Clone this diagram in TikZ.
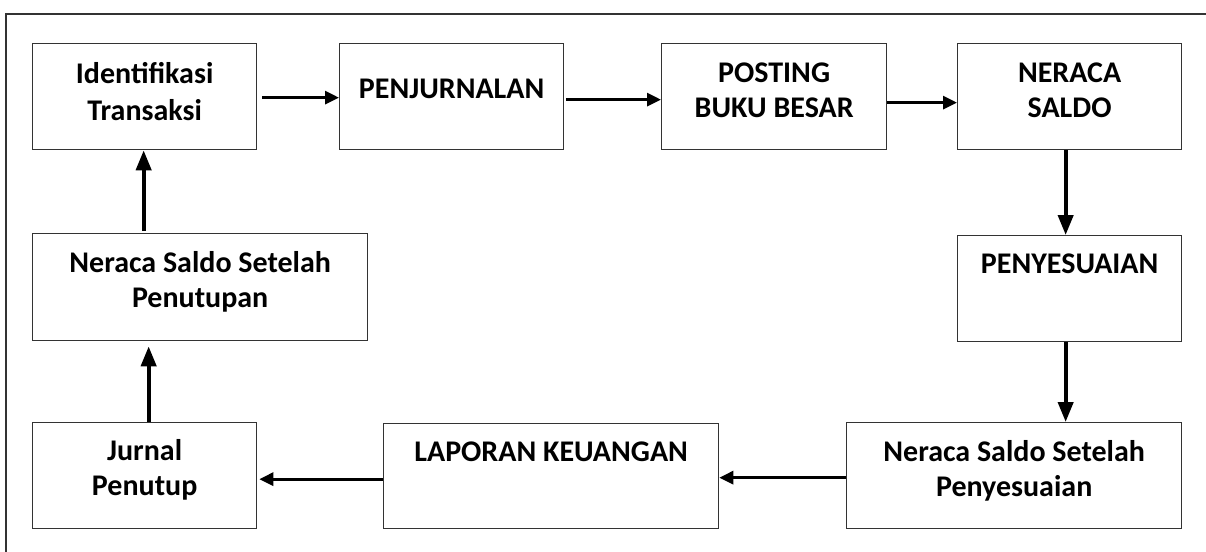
\documentclass[tikz,border=0pt]{standalone}
\usepackage{fontspec}
\setmainfont{Carlito}
\usetikzlibrary{arrows.meta,calc}
\begin{document}
\begin{tikzpicture}[x=1pt,y=-1pt,
  box/.style={draw=black!80,line width=1.3pt,rectangle,anchor=north west,inner sep=0pt},
  lbl/.style={font=\fontsize{30}{35}\selectfont\bfseries,align=center,anchor=base,inner sep=0pt},
  harr/.style={line width=3pt,-{Triangle[length=14pt,width=13pt]}},
  varr/.style={line width=4pt,-{Triangle[length=20pt,width=15pt]}}]
\useasboundingbox (0,0) rectangle (1206,551);
\draw[line width=2pt,black!80] (1210,14) -- (6,14) -- (6,560);
% boxes
\node[box,minimum width=224pt,minimum height=106pt] (it) at (32,43) {};
\node[box,minimum width=224pt,minimum height=106pt] (pj) at (339,43) {};
\node[box,minimum width=225pt,minimum height=106pt] (pb) at (661,43) {};
\node[box,minimum width=224pt,minimum height=106pt] (ns) at (957,43) {};
\node[box,minimum width=224pt,minimum height=106pt] (py) at (957,235) {};
\node[box,minimum width=335pt,minimum height=106pt] (nsp) at (846,422) {};
\node[box,minimum width=335pt,minimum height=105pt] (lk) at (383,423) {};
\node[box,minimum width=224pt,minimum height=106pt] (jp) at (32,422) {};
\node[box,minimum width=335pt,minimum height=107pt] (nst) at (32,233) {};
% labels (base = last line)
\node[lbl,font=\fontsize{30}{37}\selectfont\bfseries] (t-it) at ($(it.north)+(0,77)$) {Identifikasi\\Transaksi};
\node[lbl] (t-pj) at ($(pj.north)+(0,55)$) {PENJURNALAN};
\node[lbl] (t-pb) at ($(pb.north)+(0,74)$) {POSTING\\BUKU BESAR};
\node[lbl] (t-ns) at ($(ns.north)+(0,74)$) {NERACA\\SALDO};
\node[lbl] (t-py) at ($(py.north)+(0,38)$) {PENYESUAIAN};
\node[lbl] (t-nsp) at ($(nsp.north)+(0,74)$) {Neraca Saldo Setelah\\Penyesuaian};
\node[lbl] (t-lk) at ($(lk.north)+(0,38)$) {LAPORAN KEUANGAN};
\node[lbl] (t-jp) at ($(jp.north)+(0,73)$) {Jurnal\\Penutup};
\node[lbl] (t-nst) at ($(nst.north)+(0,74)$) {Neraca Saldo Setelah\\Penutupan};
% connectors
\draw[harr] ([xshift=5pt,yshift=-1pt]it.east) -- ([yshift=-1pt]it.east -| pj.west);
\draw[harr] ([xshift=2pt,yshift=-3pt]pj.east) -- ([yshift=-3pt]pj.east -| pb.west);
\draw[harr] ([yshift=-6pt]pb.east) -- ([yshift=-6pt]pb.east -| ns.west);
\draw[varr] ([xshift=-4pt]ns.south) -- ([xshift=-4pt]ns.south |- py.north);
\draw[varr] ([xshift=-4pt]py.south) -- ([xshift=-4pt]py.south |- nsp.north);
\draw[harr] ([yshift=-2pt]nsp.west) -- ([yshift=-2pt]nsp.west -| lk.east);
\draw[harr] ([yshift=-3pt]lk.west) -- ([xshift=2pt,yshift=-3pt]lk.west -| jp.east);
\draw[varr] ([xshift=4pt]jp.north) -- ([xshift=4pt,yshift=-5pt]jp.north |- nst.south);
\draw[varr] ([xshift=-1pt,yshift=2pt]jp.north |- nst.north) -- ([xshift=-1pt]jp.north |- it.south);
\end{tikzpicture}
\end{document}
